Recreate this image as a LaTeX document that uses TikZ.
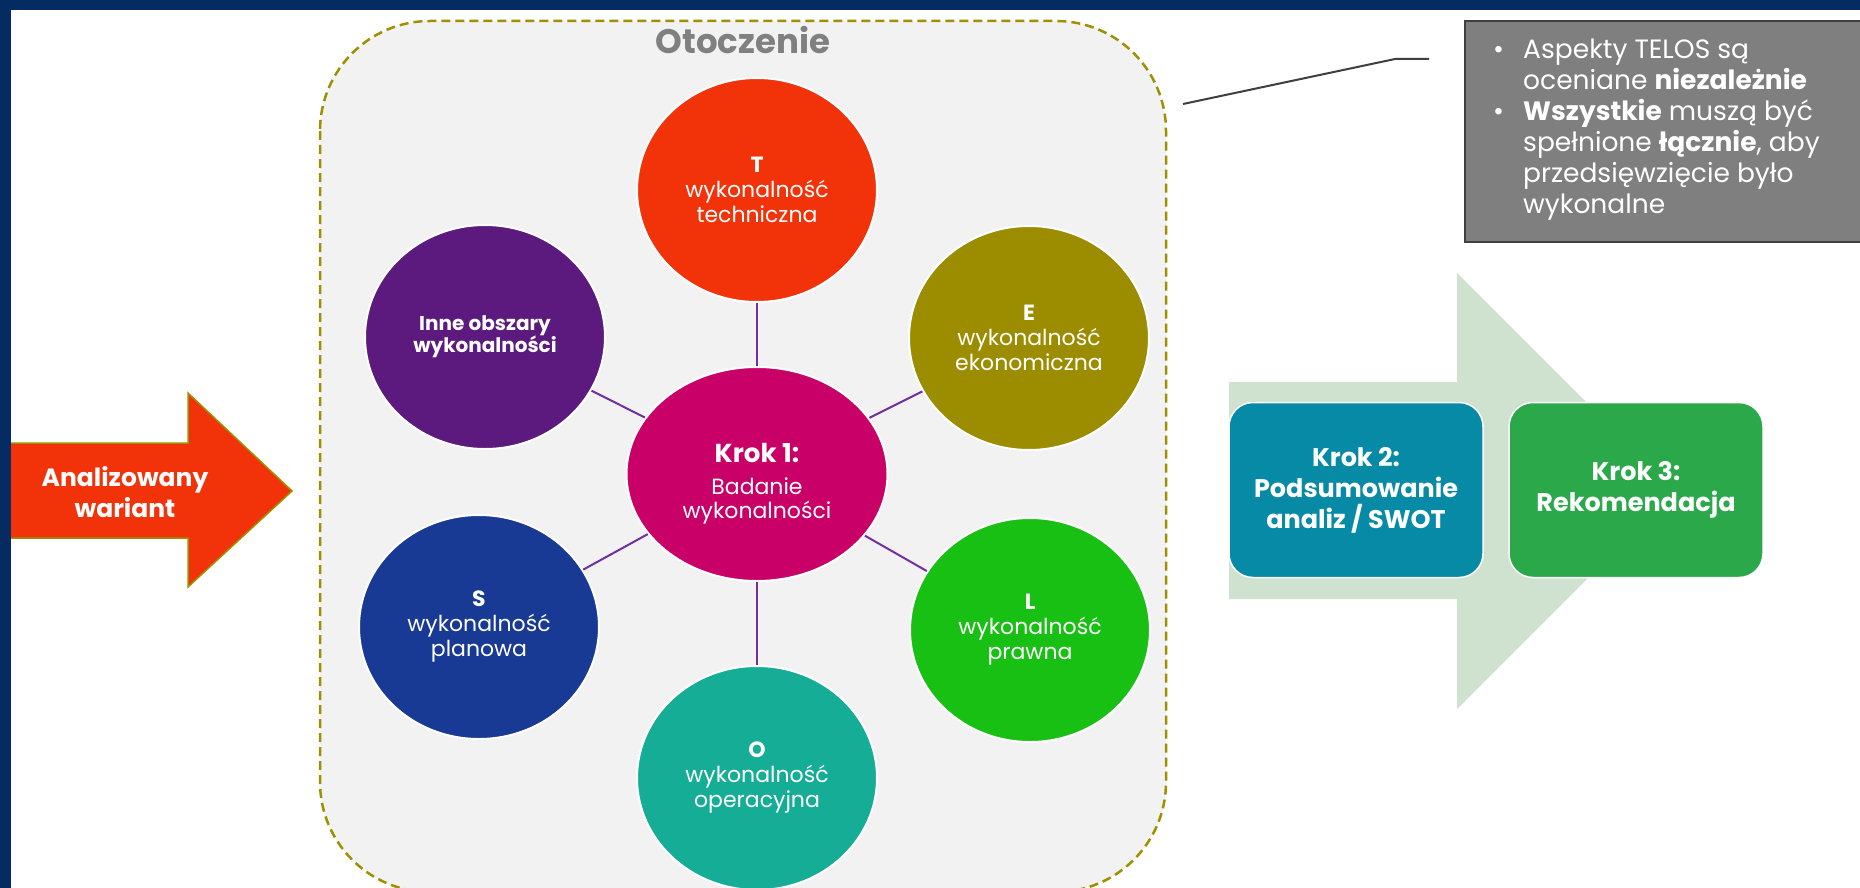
\documentclass[tikz,border=0pt]{standalone}
\usepackage{fontspec}
\setmainfont{Poppins}
\usetikzlibrary{shapes.geometric}

\definecolor{framebar}{HTML}{052B63}
\definecolor{envfill}{HTML}{F2F2F2}
\definecolor{envdash}{HTML}{A09000}
\definecolor{envtext}{HTML}{808080}
\definecolor{linkpurple}{HTML}{7030A0}
\definecolor{cT}{HTML}{F23208}
\definecolor{cE}{HTML}{9C8C00}
\definecolor{cL}{HTML}{19C014}
\definecolor{cO}{HTML}{15AD95}
\definecolor{cS}{HTML}{183A94}
\definecolor{cInne}{HTML}{5C1A7E}
\definecolor{cKrok}{HTML}{C80068}
\definecolor{cKrokTwo}{HTML}{068AA5}
\definecolor{cKrokThree}{HTML}{2BA84A}
\definecolor{flowarrow}{HTML}{CFE2D0}
\definecolor{notefill}{HTML}{7F7F7F}
\definecolor{noteline}{HTML}{3F3F3F}

\begin{document}
\begin{tikzpicture}[x=1pt,y=-1pt,
  sat/.style={ellipse, fill=#1, draw=white, line width=2pt,
    minimum width=240pt, minimum height=224pt, inner sep=0pt,
    align=center, text=white, font=\fontsize{22}{25}\selectfont},
  link/.style={draw=linkpurple, line width=2pt},
  stepbox/.style={rectangle, rounded corners=24pt, fill=#1, draw=white,
    line width=1.5pt, minimum width=254pt, minimum height=175pt,
    align=center, text=white, font=\bfseries\fontsize{25.5}{31}\selectfont},
]
\useasboundingbox (0,0) rectangle (1860,888);

% page frame bars
\fill[white] (0,0) rectangle (1860,888);
\fill[framebar] (0,0) rectangle (1860,10);

% environment frame
\draw[fill=envfill, draw=envdash, line width=2.5pt, dash pattern=on 9pt off 5pt,
  rounded corners=110pt] (320,21) rectangle (1166,892);
\node[text=envtext, font=\bfseries\fontsize{34}{38}\selectfont] (env) at (743,40) {Otoczenie};

% central step and the TELOS areas
\node[sat=cKrok, minimum width=261pt, minimum height=214pt] (k1) at (757,474) {};
\node[text=white, align=center, font=\fontsize{22}{24}\selectfont] (k1txt) at (757,484)
  {{\bfseries\fontsize{26}{30}\selectfont Krok 1:}\\[8pt]Badanie\\wykonalności};

\node[sat=cT] (T) at (757,190) {\textbf{T}\\wykonalność\\techniczna};
\node[sat=cE] (E) at (1029,338) {\textbf{E}\\wykonalność\\ekonomiczna};
\node[sat=cL] (L) at (1030,630) {\textbf{L}\\wykonalność\\prawna};
\node[sat=cO] (O) at (757,778) {\textbf{O}\\wykonalność\\operacyjna};
\node[sat=cS] (S) at (479,627) {\textbf{S}\\wykonalność\\planowa};
\node[sat=cInne, font=\bfseries\fontsize{20}{22}\selectfont] (Inne) at (485,337)
  {Inne obszary\\wykonalności};

\foreach \n in {T,E,L,O,S,Inne} \draw[link] (k1) -- (\n);

% incoming variant arrow
\fill[cT, draw=envdash, line width=1.5pt]
  (0,443) -- (188,443) -- (188,393) -- (292,491) -- (188,587) -- (188,538) -- (0,538) -- cycle;
\fill[framebar] (0,0) rectangle (11,888);
\node[text=white, align=center, font=\bfseries\fontsize{25}{31}\selectfont] (variant) at (125,492)
  {Analizowany\\wariant};

% next steps
\fill[flowarrow] (1229,382) -- (1457,382) -- (1457,273) -- (1675,491)
  -- (1457,709) -- (1457,599) -- (1229,599) -- cycle;
\node[stepbox=cKrokTwo] (k2) at (1356,490) {Krok 2:\\Podsumowanie\\analiz / SWOT};
\node[stepbox=cKrokThree] (k3) at (1636,490) {Krok 3:\\Rekomendacja};

% note with callout line
\node[rectangle, fill=notefill, draw=noteline, line width=2pt, anchor=north west,
  minimum width=400pt, minimum height=221pt] (note) at (1464,20) {};
\node[anchor=north west, text=white, inner sep=0pt, font=\fontsize{26.5}{31}\selectfont] (notetxt) at (1493,37)
  {\begin{tabular}{@{}p{30pt}@{}l@{}}
   \textbullet & Aspekty TELOS są\\
               & oceniane \textbf{niezależnie}\\
   \textbullet & \textbf{Wszystkie} muszą być\\
               & spełnione \textbf{łącznie}, aby\\
               & przedsięwzięcie było\\
               & wykonalne
   \end{tabular}};
\coordinate (calloutA) at (1183,104);
\coordinate (calloutB) at (1395,59);
\coordinate (calloutC) at (1429,59);
\draw[noteline, line width=2pt] (calloutA) -- (calloutB) -- (calloutC);
\end{tikzpicture}
\end{document}
